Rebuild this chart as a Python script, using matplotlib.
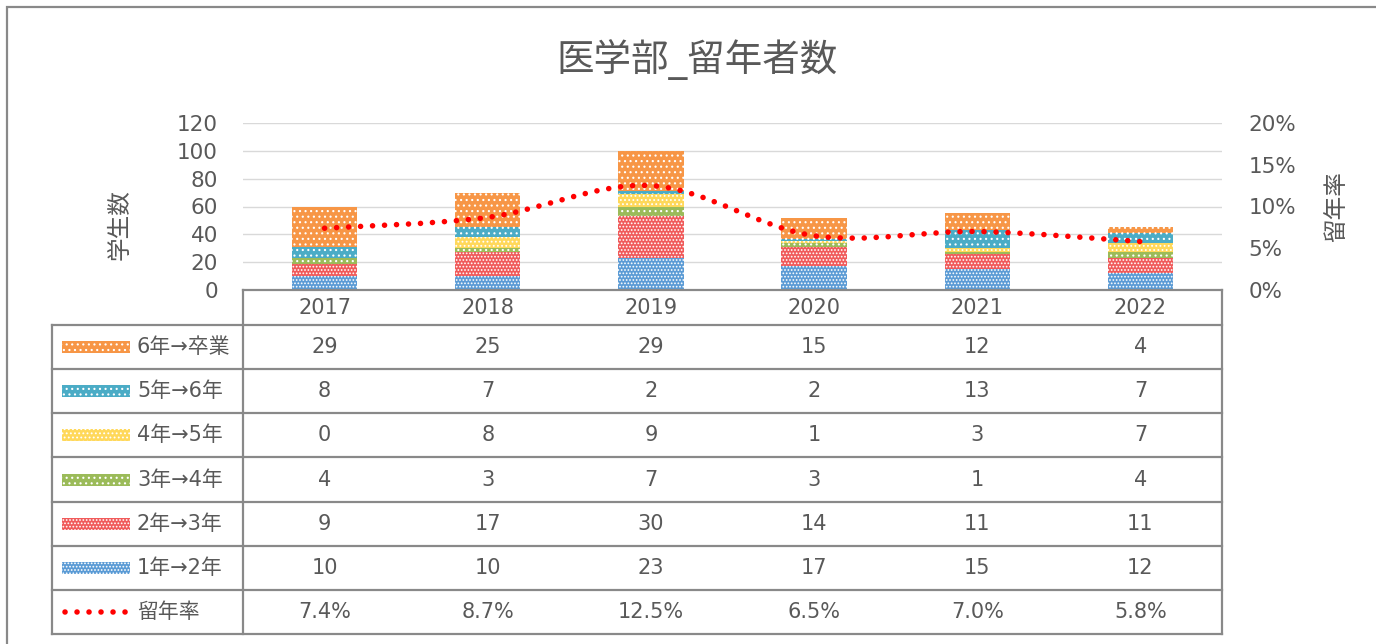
import numpy as np
import matplotlib
matplotlib.use("Agg")
import matplotlib.pyplot as plt
from matplotlib.path import Path
from matplotlib.patches import PathPatch, Rectangle
from matplotlib.ticker import PercentFormatter

plt.rcParams["font.family"] = ["DejaVu Sans", "Noto Sans CJK JP"]
plt.rcParams["hatch.linewidth"] = 0.8

years = ["2017", "2018", "2019", "2020", "2021", "2022"]
# stacked from the bottom up
series_names = ["1年→2年", "2年→3年", "3年→4年", "4年→5年", "5年→6年", "6年→卒業"]
y1_2 = [10, 10, 23, 17, 15, 12]
y2_3 = [9, 17, 30, 14, 11, 11]
y3_4 = [4, 3, 7, 3, 1, 4]
y4_5 = [0, 8, 9, 1, 3, 7]
y5_6 = [8, 7, 2, 2, 13, 7]
y6_grad = [29, 25, 29, 15, 12, 4]
rate = [0.074, 0.087, 0.125, 0.065, 0.070, 0.058]
rate_name = "留年率"

series = [y1_2, y2_3, y3_4, y4_5, y5_6, y6_grad]
colors = ["#5B9BD5", "#F05A5A", "#9BBB59", "#FFD85A", "#4BACC6", "#F79646"]
hatches = [".....", ".....", "...", "....", "...", "..."]

GRAY = "#595959"
LINE = "#898989"
W, H = 1376, 644

fig = plt.figure(figsize=(W / 100, H / 100), dpi=100)


def px(x0, y_top, x1, y_bot):
    return [x0 / W, 1 - y_bot / H, (x1 - x0) / W, (y_bot - y_top) / H]


# outer frame (top and left edges)
fig.patches.append(Rectangle((7 / W, -0.2), 2.0, 1.2 - 7 / H, transform=fig.transFigure,
                             fill=False, edgecolor=LINE, linewidth=1.6))

fig.text(697 / W, 1 - 60 / H, "医学部_留年者数", ha="center", va="center",
         fontsize=27, color=GRAY)

# ---- chart area ----
ax = fig.add_axes(px(243, 123, 1222, 290))
x = np.arange(len(years))
bottom = np.zeros(len(years))
for vals, c, h in zip(series, colors, hatches):
    ax.bar(x, vals, 0.4, bottom=bottom, color=c, edgecolor="white", linewidth=0,
           hatch=h, zorder=2)
    bottom += np.array(vals)

ax.set_xlim(-0.5, len(years) - 0.5)
ax.set_ylim(0, 120)
ax.set_yticks(range(0, 121, 20))
ax.set_xticks([])
ax.grid(axis="y", color="#D9D9D9", linewidth=1.0, zorder=0)
ax.tick_params(axis="y", length=0, pad=18, labelsize=15.5, labelcolor=GRAY)
for s in ax.spines.values():
    s.set_visible(False)
ax.set_ylabel("学生数", fontsize=17, color=GRAY, va="center")
ax.yaxis.set_label_coords((120 - 243) / 979, 0.39)

ax2 = ax.twinx()
ax2.set_ylim(0, 0.20)
ax2.set_yticks(np.arange(0, 0.201, 0.05))
ax2.yaxis.set_major_formatter(PercentFormatter(1.0, decimals=0))
ax2.tick_params(axis="y", length=0, pad=19, labelsize=15.5, labelcolor=GRAY)
for s in ax2.spines.values():
    s.set_visible(False)
ax2.set_ylabel(rate_name, fontsize=17, color=GRAY, rotation=90, va="center")
ax2.yaxis.set_label_coords((1336 - 243) / 979, 0.5)

# smoothed rate line as cubic Bezier segments through the data points
pts = np.column_stack([x, rate]).astype(float)
ext = np.vstack([pts[0], pts, pts[-1]])
verts = [tuple(pts[0])]
codes = [Path.MOVETO]
for i in range(len(pts) - 1):
    p0, p1, p2, p3 = ext[i], ext[i + 1], ext[i + 2], ext[i + 3]
    c1 = p1 + (p2 - p0) / 6
    c2 = p2 - (p3 - p1) / 6
    verts += [tuple(c1), tuple(c2), tuple(p2)]
    codes += [Path.CURVE4] * 3
DOTS = (0, (0.01, 2.15))
ax2.add_patch(PathPatch(Path(verts, codes), fill=False, edgecolor="#FF0000",
                        linestyle=DOTS, linewidth=4.0, capstyle="round", zorder=3))

# ---- data table ----
col_w = 979 / len(years)
leg_w = (243 - 52) / col_w
tab = fig.add_axes(px(52, 290, 1222, 634))
hdr = 35 / 44
tab.set_xlim(-0.5 - leg_w, len(years) - 0.5)
tab.set_ylim(len(series) + 1, -hdr)
tab.axis("off")

x_left = -0.5 - leg_w
x_mid = -0.5
x_right = len(years) - 0.5
lk = dict(color=LINE, linewidth=1.6, clip_on=False, solid_capstyle="projecting")
tab.plot([x_mid, x_right], [-hdr, -hdr], **lk)
for r in range(len(series) + 2):
    tab.plot([x_left, x_right], [r, r], **lk)
tab.plot([x_left, x_left], [0, len(series) + 1], **lk)
tab.plot([x_mid, x_mid], [-hdr, len(series) + 1], **lk)
tab.plot([x_right, x_right], [-hdr, len(series) + 1], **lk)

for j, yr in enumerate(years):
    tab.text(j, -hdr / 2, yr, ha="center", va="center", fontsize=15, color=GRAY)

key_x = x_left + 10 / col_w
key_w = 68 / col_w
key_h = 12 / 44
label_x = x_left + 85 / col_w
rows = list(zip(series_names, series, colors, hatches))[::-1]
for r, (name, vals, c, h) in enumerate(rows):
    yc = r + 0.5
    tab.add_patch(Rectangle((key_x, yc - key_h / 2), key_w, key_h, facecolor=c,
                            edgecolor="white", linewidth=0, hatch=h))
    tab.text(label_x, yc, name, ha="left", va="center", fontsize=15, color=GRAY)
    for j, v in enumerate(vals):
        tab.text(j, yc, f"{v}", ha="center", va="center", fontsize=15, color=GRAY)

yc = len(series) + 0.5
tab.plot([key_x + 0.02, key_x + key_w - 0.02], [yc, yc], color="#FF0000",
         linestyle=DOTS, linewidth=4.0, dash_capstyle="round")
tab.text(label_x, yc, rate_name, ha="left", va="center", fontsize=15, color=GRAY)
for j, v in enumerate(rate):
    tab.text(j, yc, f"{v * 100:.1f}%", ha="center", va="center", fontsize=15, color=GRAY)

fig.savefig("out.png", dpi=100)
